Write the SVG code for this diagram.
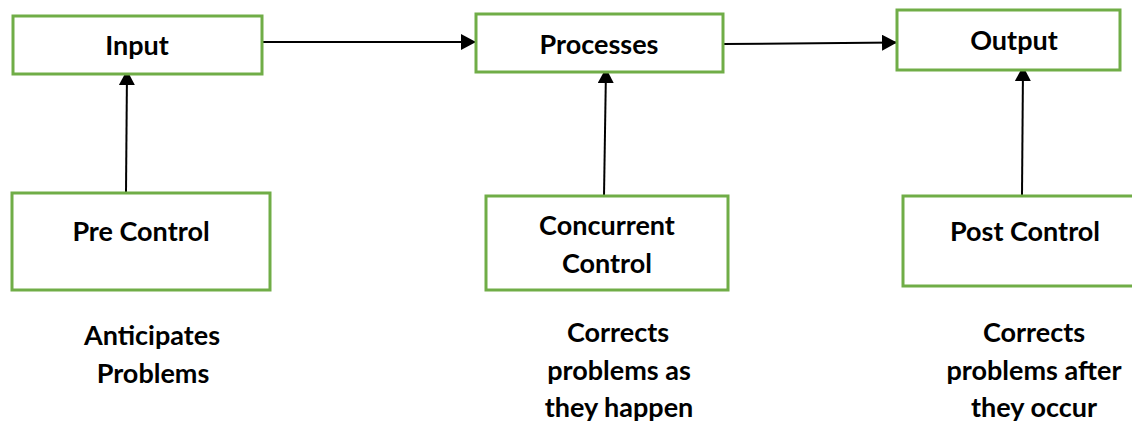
<svg xmlns="http://www.w3.org/2000/svg" width="1132" height="424" viewBox="0 0 1132 424">
  <style>
    .box { fill: #ffffff; stroke: #70ad47; stroke-width: 3; }
    .label { font-family: Lato, "Liberation Sans", sans-serif; font-weight: bold; font-size: 27px; fill: #000000; text-anchor: middle; }
    .link { stroke: #000000; stroke-width: 2; fill: none; marker-end: url(#arrow); }
  </style>
  <defs>
    <marker id="arrow" markerUnits="userSpaceOnUse" markerWidth="16" markerHeight="16" refX="15" refY="8" orient="auto">
      <path d="M0,0 L15,8 L0,16 z" fill="#000000"/>
    </marker>
  </defs>
  <rect width="1132" height="424" fill="#ffffff"/>

  <!-- connectors -->
  <g id="connectors">
    <line class="link" x1="262" y1="42" x2="476" y2="42"/>
    <line class="link" x1="723" y1="44" x2="897" y2="42.5"/>
    <line class="link" x1="126" y1="192" x2="127" y2="70"/>
    <line class="link" x1="604" y1="196" x2="606" y2="68"/>
    <line class="link" x1="1022" y1="195" x2="1023" y2="66"/>
  </g>

  <!-- top row: flow stages -->
  <g id="input">
    <rect class="box" x="13" y="16" width="249" height="58"/>
    <text class="label" x="137" y="55">Input</text>
  </g>
  <g id="processes">
    <rect class="box" x="476" y="14" width="247" height="58"/>
    <text class="label" x="599" y="54">Processes</text>
  </g>
  <g id="output">
    <rect class="box" x="897" y="10" width="223" height="60"/>
    <text class="label" x="1014" y="50">Output</text>
  </g>

  <!-- bottom row: control types -->
  <g id="pre-control">
    <rect class="box" x="12" y="193" width="258" height="97"/>
    <text class="label" x="141" y="241">Pre Control</text>
  </g>
  <g id="concurrent-control">
    <rect class="box" x="486" y="196" width="242" height="94"/>
    <text class="label" x="607" y="235">Concurrent</text>
    <text class="label" x="607" y="273">Control</text>
  </g>
  <g id="post-control">
    <rect class="box" x="903" y="196" width="240" height="90"/>
    <text class="label" x="1025" y="241">Post Control</text>
  </g>

  <!-- descriptions -->
  <g id="pre-note">
    <text class="label" x="152" y="345">Anticipates</text>
    <text class="label" x="153" y="383">Problems</text>
  </g>
  <g id="concurrent-note">
    <text class="label" x="618" y="342">Corrects</text>
    <text class="label" x="619" y="380">problems as</text>
    <text class="label" x="619" y="417">they happen</text>
  </g>
  <g id="post-note">
    <text class="label" x="1034" y="342">Corrects</text>
    <text class="label" x="1034" y="380">problems after</text>
    <text class="label" x="1034" y="417">they occur</text>
  </g>
</svg>
